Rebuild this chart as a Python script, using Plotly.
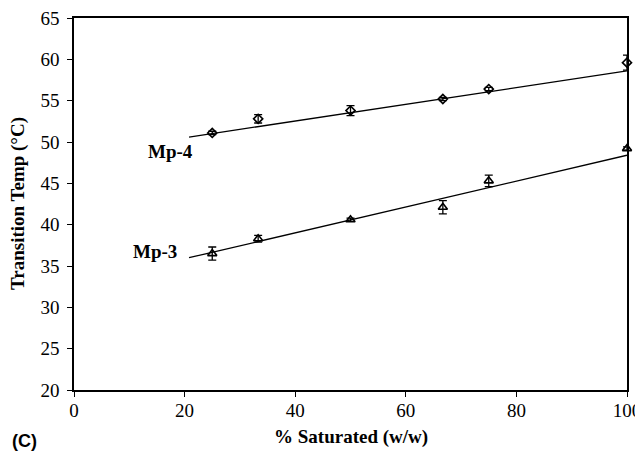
import plotly.graph_objects as go

# Measured points (% saturated vs transition temperature)
sat_pct = [25, 33.3, 50, 66.7, 75, 100]
mp4_temp = [51.1, 52.8, 53.8, 55.2, 56.4, 59.6]
mp4_err = [0.2, 0.5, 0.6, 0.2, 0.2, 0.9]
mp3_temp = [36.5, 38.3, 40.6, 42.1, 45.3, 49.2]
mp3_err = [0.8, 0.4, 0.2, 0.8, 0.7, 0.2]

# Linear trend lines (end points)
trend_x = [20.8, 100]
mp4_trend = [50.6, 58.6]
mp3_trend = [36.0, 48.4]

x_ticks = [0, 20, 40, 60, 80, 100]
y_ticks = [20, 25, 30, 35, 40, 45, 50, 55, 60, 65]

_SERIF = "Liberation Serif, Times New Roman, serif"
_SANS = "Liberation Sans, Arial, sans-serif"
_BLACK = "#000000"

fig = go.Figure()

for trend in (mp4_trend, mp3_trend):
    fig.add_trace(go.Scatter(
        x=trend_x, y=trend, mode="lines",
        line={"color": _BLACK, "width": 1.3},
        showlegend=False, hoverinfo="skip", cliponaxis=False,
    ))

fig.add_trace(go.Scatter(
    x=sat_pct, y=mp4_temp, mode="markers", name="Mp-4",
    marker={"symbol": "diamond-open", "size": 7, "color": _BLACK, "line": {"width": 1.6}},
    error_y={"type": "data", "array": mp4_err, "color": _BLACK, "thickness": 1.3, "width": 4},
    showlegend=False, cliponaxis=False,
))
fig.add_trace(go.Scatter(
    x=sat_pct, y=mp3_temp, mode="markers", name="Mp-3",
    marker={"symbol": "triangle-up-open", "size": 8, "color": _BLACK, "line": {"width": 1.6}},
    error_y={"type": "data", "array": mp3_err, "color": _BLACK, "thickness": 1.3, "width": 4},
    showlegend=False, cliponaxis=False,
))

# series labels
fig.add_annotation(x=17.4, y=48.9, text="<b>Mp-4</b>", showarrow=False,
                   font={"family": _SERIF, "size": 19, "color": _BLACK})
fig.add_annotation(x=14.6, y=36.7, text="<b>Mp-3</b>", showarrow=False,
                   font={"family": _SERIF, "size": 19, "color": _BLACK})

# axis titles and panel letter
fig.add_annotation(x=0.5, y=0, xref="paper", yref="paper", yshift=-47,
                   text="<b>% Saturated (w/w)</b>", showarrow=False, yanchor="middle",
                   font={"family": _SERIF, "size": 19, "color": _BLACK})
fig.add_annotation(x=0, y=0.5, xref="paper", yref="paper", xshift=-56, textangle=-90,
                   text="<b>Transition Temp (°C)</b>", showarrow=False, xanchor="center",
                   font={"family": _SERIF, "size": 19, "color": _BLACK})
fig.add_annotation(x=0, y=0, xref="paper", yref="paper", xshift=-64, yshift=-51,
                   text="<b>(C)</b>", showarrow=False, xanchor="left", yanchor="middle",
                   font={"family": _SANS, "size": 18, "color": _BLACK})

fig.update_layout(
    width=635, height=447,
    paper_bgcolor="white", plot_bgcolor="white",
    margin={"l": 66, "r": 16, "t": 10, "b": 65, "autoexpand": False},
    font={"family": _SERIF, "color": _BLACK, "size": 19},
)
fig.update_xaxes(
    range=[0, 100], tickvals=x_ticks, ticks="outside", ticklen=5, tickcolor=_BLACK,
    showgrid=False, zeroline=False, showline=True, linecolor=_BLACK, linewidth=1.5, mirror=True,
    automargin=False, ticklabelstandoff=-3, ticklabeloverflow="allow",
)
fig.update_yaxes(
    range=[20, 65], tickvals=y_ticks, ticks="outside", ticklen=5, tickcolor=_BLACK,
    showgrid=False, zeroline=False, showline=True, linecolor=_BLACK, linewidth=1.5, mirror=True,
    automargin=False, ticklabelstandoff=4, ticklabeloverflow="allow",
)

fig.write_html("out.html")
